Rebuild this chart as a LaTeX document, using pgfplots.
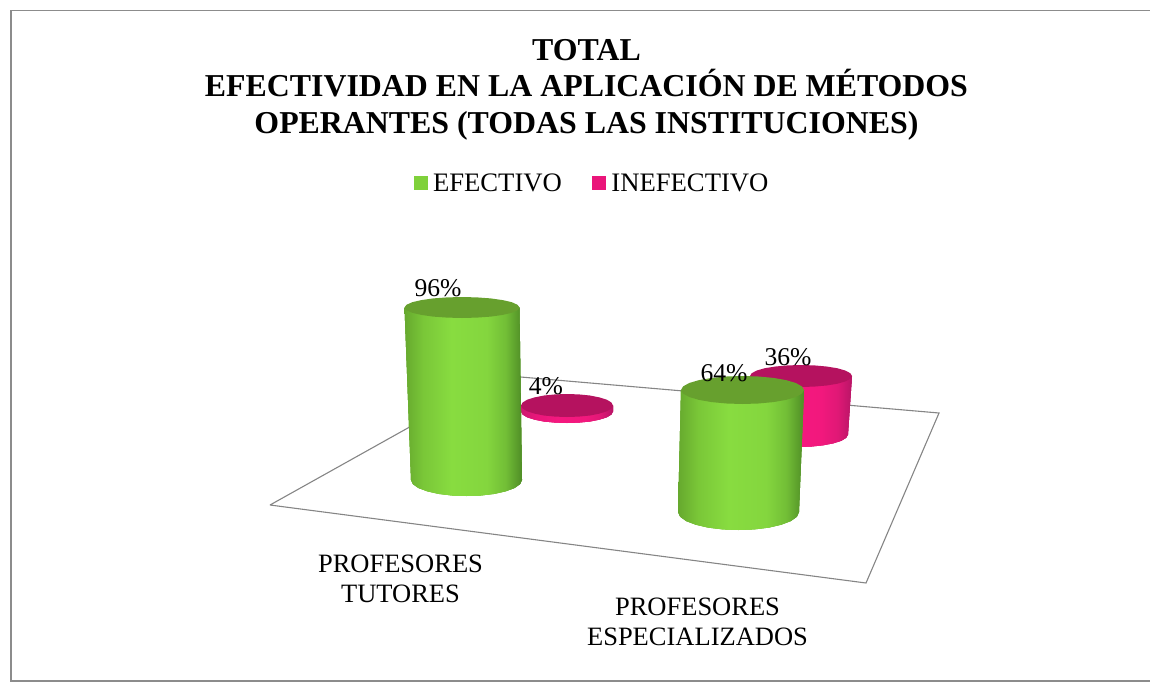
\documentclass[border=0pt]{standalone}
\usepackage{pgfplots}
\pgfplotsset{compat=1.18}
\usepackage{fontspec}
\setmainfont{Liberation Serif}
\definecolor{framegray}{HTML}{8C8C8C}
\definecolor{floorgray}{HTML}{858585}
\definecolor{gtop}{HTML}{67A02E}
\definecolor{gleg}{HTML}{7FD13B}
\definecolor{ptop}{HTML}{B5125F}
\definecolor{pleg}{HTML}{EA157A}
\definecolor{ga}{HTML}{66A92E}
\definecolor{gb}{HTML}{7AC738}
\definecolor{gc}{HTML}{88DC40}
\definecolor{gd}{HTML}{84D63E}
\definecolor{ge}{HTML}{72BE36}
\definecolor{gf}{HTML}{4F8D26}
\definecolor{pa}{HTML}{CC1A70}
\definecolor{pb}{HTML}{E8177A}
\definecolor{pc}{HTML}{F5187F}
\definecolor{pd}{HTML}{F2187D}
\definecolor{pe}{HTML}{E01876}
\definecolor{pf}{HTML}{B81566}
\pgfdeclarehorizontalshading{greencyl}{100bp}{color(0bp)=(ga);color(25bp)=(ga);color(33bp)=(gb);color(45bp)=(gc);color(60bp)=(gd);color(68bp)=(ge);color(75bp)=(gf);color(100bp)=(gf)}
\pgfdeclarehorizontalshading{pinkcyl}{100bp}{color(0bp)=(pa);color(25bp)=(pa);color(33bp)=(pb);color(45bp)=(pc);color(60bp)=(pd);color(68bp)=(pe);color(75bp)=(pf);color(100bp)=(pf)}
\begin{document}
\begin{tikzpicture}
\path[use as bounding box] (0,0) rectangle (1150pt,682pt);
\begin{axis}[
  at={(0,0)}, anchor=south west,
  width=1150pt, height=682pt, scale only axis,
  xmin=0, xmax=1150, ymin=0, ymax=682, y dir=reverse,
  hide axis, clip=false,
  legend style={at={(axis cs:592,183)}, anchor=center, draw=none, fill=none,
    font=\fontsize{26.67}{30}\selectfont, legend columns=2,
    /tikz/every even column/.append style={column sep=29pt},
    inner sep=0pt, outer sep=0pt, nodes={inner sep=1.5pt}},
  legend image code/.code={\fill[#1] (0pt,-7pt) rectangle (14pt,7pt);\path (17.5pt,0pt);},
]
% frame
\addplot[forget plot, framegray, line width=1.6pt] coordinates {(1150,10.5) (11,10.5) (11,681) (1150,681)};
% floor
\addplot[forget plot, floorgray, line width=1.1pt] coordinates {(270,505) (866,583) (939,413) (502,375.4) (270,505)};
% pink 4 %
\addplot[forget plot, draw=none, preaction={fill=pa}, shade, shading=pinkcyl] coordinates {(521,405.5) (521,411.5) (522.6,414.5) (527.2,417.3) (534.5,419.6) (544,421.5) (555.1,422.6) (567,423) (578.9,422.6) (590,421.5) (599.5,419.6) (606.8,417.3) (611.4,414.5) (613,411.5) (613,405.5)};
\addplot[forget plot, draw=none, fill=ptop] coordinates {(521,405.5) (522.6,408.5) (527.2,411.3) (534.5,413.6) (544,415.5) (555.1,416.6) (567,417) (578.9,416.6) (590,415.5) (599.5,413.6) (606.8,411.3) (611.4,408.5) (613,405.5) (611.4,402.5) (606.8,399.7) (599.5,397.4) (590,395.5) (578.9,394.4) (567,394) (555.1,394.4) (544,395.5) (534.5,397.4) (527.2,399.7) (522.6,402.5)};
% green 96 %
\addplot[forget plot, draw=none, preaction={fill=ga}, shade, shading=greencyl] coordinates {(404.5,307.5) (411,480) (412.9,484.1) (418.4,488) (427.3,491.3) (438.7,493.9) (452.1,495.5) (466.5,496) (480.9,495.5) (494.3,493.9) (505.7,491.3) (514.6,488) (520.1,484.1) (522,480) (519.5,307.5)};
\addplot[forget plot, draw=none, fill=gtop] coordinates {(404.5,307.5) (406.5,310.2) (412.2,312.8) (421.3,314.9) (433.2,316.6) (447.1,317.6) (462,318) (476.9,317.6) (490.8,316.6) (502.7,314.9) (511.8,312.8) (517.5,310.2) (519.5,307.5) (517.5,304.8) (511.8,302.2) (502.7,300.1) (490.8,298.4) (476.9,297.4) (462,297) (447.1,297.4) (433.2,298.4) (421.3,300.1) (412.2,302.2) (406.5,304.8)};
% pink 36 %
\addplot[forget plot, draw=none, preaction={fill=pa}, shade, shading=pinkcyl] coordinates {(750,376) (748,434.5) (749.7,437.7) (754.7,440.8) (762.6,443.3) (773,445.3) (785.1,446.6) (798,447) (810.9,446.6) (823,445.3) (833.4,443.3) (841.3,440.8) (846.3,437.7) (848,434.5) (852,376)};
\addplot[forget plot, draw=none, fill=ptop] coordinates {(750,376) (751.7,378.8) (756.8,381.5) (764.9,383.8) (775.5,385.5) (787.8,386.6) (801,387) (814.2,386.6) (826.5,385.5) (837.1,383.8) (845.2,381.5) (850.3,378.8) (852,376) (850.3,373.2) (845.2,370.5) (837.1,368.2) (826.5,366.5) (814.2,365.4) (801,365) (787.8,365.4) (775.5,366.5) (764.9,368.2) (756.8,370.5) (751.7,373.2)};
% green 64 %
\addplot[forget plot, draw=none, preaction={fill=ga}, shade, shading=greencyl] coordinates {(681,390) (678,512) (680.1,516.7) (686.1,521) (695.7,524.7) (708.2,527.6) (722.8,529.4) (738.5,530) (754.2,529.4) (768.8,527.6) (781.3,524.7) (790.9,521) (796.9,516.7) (799,512) (804,390)};
\addplot[forget plot, draw=none, fill=gtop] coordinates {(681,390) (683.1,393.6) (689.2,397) (699,399.9) (711.7,402.1) (726.6,403.5) (742.5,404) (758.4,403.5) (773.3,402.1) (786,399.9) (795.8,397) (801.9,393.6) (804,390) (801.9,386.4) (795.8,383) (786,380.1) (773.3,377.9) (758.4,376.5) (742.5,376) (726.6,376.5) (711.7,377.9) (699,380.1) (689.2,383) (683.1,386.4)};
% legend
\addlegendimage{draw=none, fill=gleg}
\addlegendentry{EFECTIVO}
\addlegendimage{draw=none, fill=pleg}
\addlegendentry{INEFECTIVO}
% text
\node[align=center, font=\fontsize{31.85}{36.6}\selectfont\bfseries] at (axis cs:586.5,89.5) {TOTAL\\EFECTIVIDAD EN LA APLICACIÓN DE MÉTODOS\\OPERANTES (TODAS LAS INSTITUCIONES)};
\node[font=\fontsize{25.6}{30}\selectfont] at (axis cs:438,288) {96\%};
\node[font=\fontsize{25.6}{30}\selectfont] at (axis cs:546,386) {4\%};
\node[font=\fontsize{25.6}{30}\selectfont] at (axis cs:724,373) {64\%};
\node[font=\fontsize{25.6}{30}\selectfont] at (axis cs:788,357) {36\%};
\node[align=center, font=\fontsize{26.5}{29.5}\selectfont] at (axis cs:400.5,579) {PROFESORES\\TUTORES};
\node[align=center, font=\fontsize{26.5}{29.5}\selectfont] at (axis cs:697.5,622) {PROFESORES\\ESPECIALIZADOS};
\end{axis}
\end{tikzpicture}
\end{document}
